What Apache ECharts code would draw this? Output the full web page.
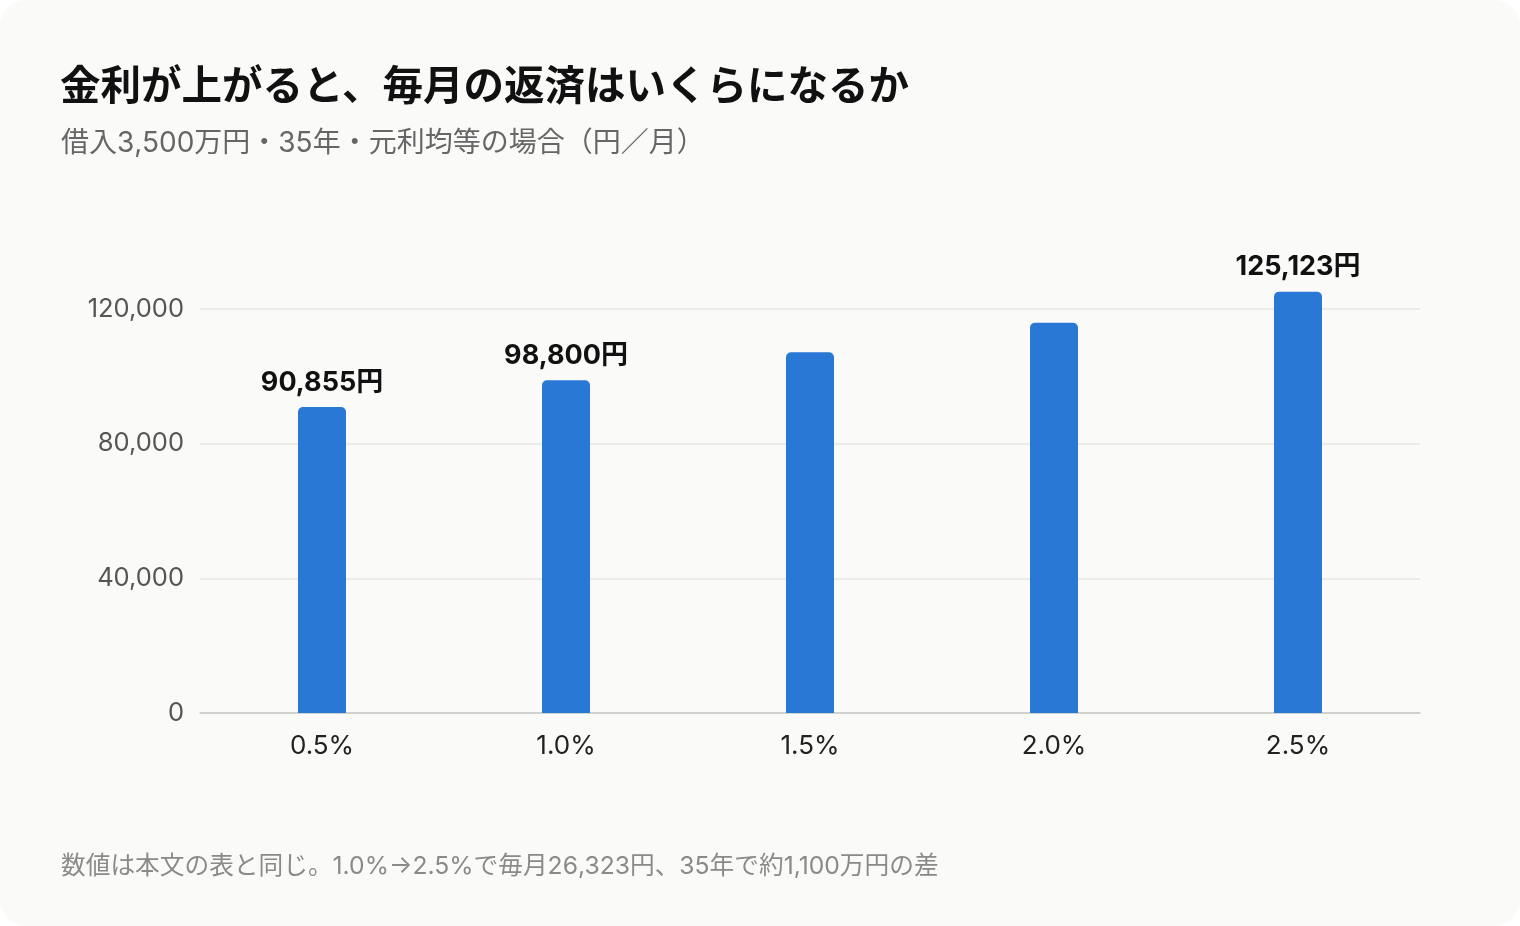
<!DOCTYPE html>
<html><head><meta charset="utf-8">
<script src="https://cdn.jsdelivr.net/npm/echarts@6/dist/echarts.min.js"></script>
<style>
html,body{margin:0;padding:0;background:#ffffff;width:1520px;height:926px;overflow:hidden;}
#card{position:absolute;left:0;top:0;width:1520px;height:926px;background:#fafaf8;border-radius:26px;}
#c{width:1520px;height:926px;}
</style></head>
<body><div id="card"><div id="c"></div></div>
<script>
const categories = ['0.5%', '1.0%', '1.5%', '2.0%', '2.5%'];
const payments = [90855, 98800, 107164, 115941, 125123];
const labeledIndex = [0, 1, 4];
const yTicks = [0, 40000, 80000, 120000];
const titleText = '金利が上がると、毎月の返済はいくらになるか';
const subtitleText = '借入3,500万円・35年・元利均等の場合（円／月）';
const noteText = '数値は本文の表と同じ。1.0%→2.5%で毎月26,323円、35年で約1,100万円の差';

const FONT = 'Inter, "Noto Sans CJK JP", "Noto Sans", sans-serif';
const chart = echarts.init(document.getElementById('c'), null, {renderer: 'canvas'});
chart.setOption({
  backgroundColor: 'transparent',
  textStyle: {fontFamily: FONT},
  title: [
    {text: titleText, left: 55, top: 63, textStyle: {fontFamily: FONT, fontSize: 40.5, fontWeight: 'bold', color: '#111111'}},
    {text: subtitleText, left: 56, top: 125, textStyle: {fontFamily: FONT, fontSize: 28, fontWeight: 'normal', color: '#666666'}},
    {text: noteText, left: 56, top: 849, textStyle: {fontFamily: FONT, fontSize: 24.7, fontWeight: 'normal', color: '#8a8a8a'}}
  ],
  grid: {left: 200, right: 100, top: 309, bottom: 213, containLabel: false},
  xAxis: {
    type: 'category', data: categories,
    axisTick: {show: false},
    axisLine: {lineStyle: {color: '#c8c8c4', width: 1.5}},
    axisLabel: {fontFamily: FONT, fontSize: 26, color: '#222222', margin: 20}
  },
  yAxis: {
    type: 'value', min: yTicks[0], max: yTicks[yTicks.length - 1], interval: 40000,
    axisLine: {show: false}, axisTick: {show: false},
    splitLine: {lineStyle: {color: '#e6e6e3', width: 1.5}},
    axisLabel: {fontFamily: FONT, fontSize: 25.5, color: '#555555', margin: 16,
      formatter: v => v.toLocaleString('en-US')}
  },
  series: [{
    type: 'bar', clip: false, barWidth: 48,
    itemStyle: {color: '#2a78d6', borderRadius: [5, 5, 0, 0]},
    data: payments.map((v, i) => ({
      value: v,
      label: {show: labeledIndex.includes(i)}
    })),
    label: {
      position: 'top', distance: 11,
      fontFamily: FONT, fontSize: 27, fontWeight: 'bold', color: '#111111',
      formatter: p => p.value.toLocaleString('en-US') + '円'
    },
    silent: true
  }],
  animation: false
});
</script></body></html>
